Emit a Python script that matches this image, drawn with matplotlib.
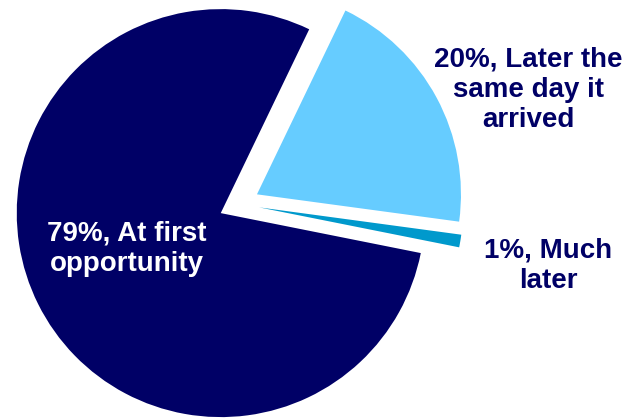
import matplotlib.pyplot as plt

labels = ['79%, At first\nopportunity', '1%, Much\nlater', '20%, Later the\nsame day it\narrived']
shares = [79, 1, 20]
colors = ['#000066', '#0099CC', '#66CCFF']
explode = [0.1, 0.1, 0.1]

plt.rcParams['font.family'] = ['Liberation Sans', 'DejaVu Sans']

fig = plt.figure(figsize=(6.27, 4.19), dpi=100)
ax = fig.add_axes([0, 0, 1, 1])
ax.pie(shares, colors=colors, explode=explode, startangle=64.3,
       counterclock=True, radius=1.0, wedgeprops=dict(linewidth=0))
# pie centre sits at pixel (239, 204), 204 px per unit
ax.set_xlim(-239 / 204, (627 - 239) / 204)
ax.set_ylim(-(419 - 204) / 204, 204 / 204)
ax.set_aspect('auto')
ax.axis('off')

txt = dict(fontsize=20, fontweight='bold', ha='center', va='center', linespacing=1.22)
ax.text(-0.551, -0.221, labels[0], color='white', **txt)
ax.text(1.515, -0.304, labels[1], color='#000066', **txt)
ax.text(1.417, 0.561, labels[2], color='#000066', **txt)

fig.savefig('out.png', dpi=100)
